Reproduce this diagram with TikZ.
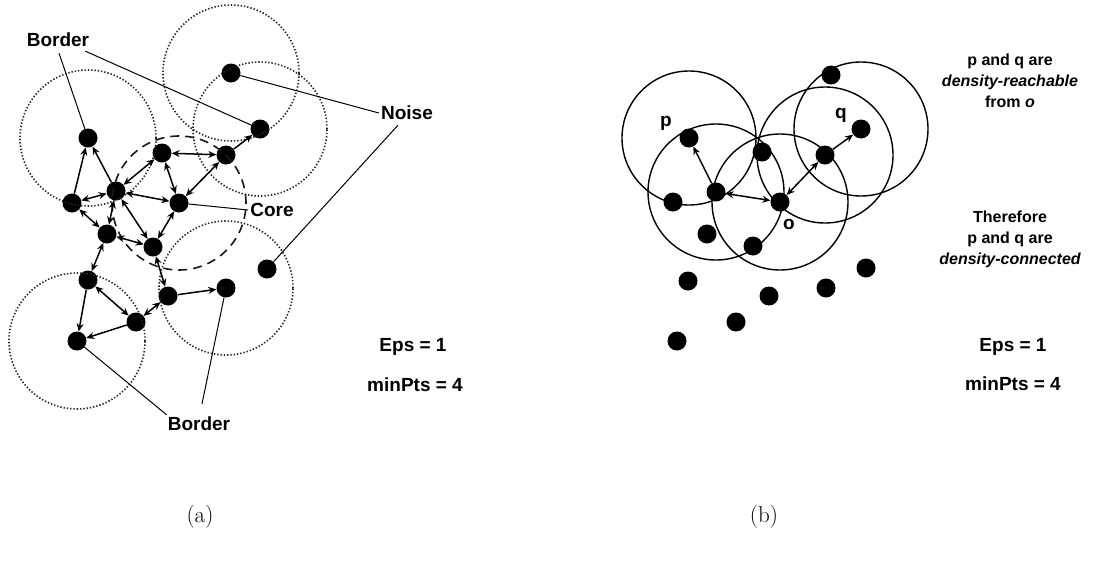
\documentclass[tikz,border=0pt]{standalone}
\usepackage{fontspec}
\newfontfamily\helv{Liberation Sans}
\usetikzlibrary{arrows.meta, positioning}

\begin{document}
\begin{tikzpicture}[x=1pt, y=-1pt]
\tikzstyle{obj} = [circle, fill=black, inner sep=0pt, minimum size=19pt]
\tikzstyle{epsdot} = [draw=black!85, line width=1.6pt, dash pattern=on 1.4pt off 1.9pt]
\tikzstyle{epscore} = [draw=black!90, line width=1.6pt, dash pattern=on 9pt off 6pt]
\tikzstyle{eps} = [draw=black, line width=1.4pt]
\tikzstyle{link} = [line width=1.5pt, -{Stealth[length=8pt,width=7pt]}]
\tikzstyle{twoway} = [line width=1.5pt, {Stealth[length=8pt,width=7pt]}-{Stealth[length=8pt,width=7pt]}]
\tikzstyle{callout} = [line width=1pt]
\tikzstyle{lbl} = [font=\helv\bfseries\fontsize{19}{22}\selectfont, inner sep=2pt]
\tikzstyle{note} = [font=\helv\bfseries\fontsize{16}{21}\selectfont, align=center]

\useasboundingbox (0,0) rectangle (1096,563);

% (a)
\node (bA) [obj] at (88,138) {};
\node (cB) [obj] at (162,153) {};
\node (cC) [obj] at (226,155) {};
\node (bD) [obj] at (260,129) {};
\node (nT) [obj] at (231,73) {};
\node (cE) [obj] at (72,203) {};
\node (cF) [obj] at (116,191) {};
\node (cG) [obj] at (179,203) {};
\node (cH) [obj] at (107,234) {};
\node (cI) [obj] at (153,247) {};
\node (cJ) [obj] at (88,280) {};
\node (cK) [obj] at (168,296) {};
\node (bL) [obj] at (226,288) {};
\node (cM) [obj] at (136,322) {};
\node (bN) [obj] at (77,341) {};
\node (nR) [obj] at (267,269) {};

\draw[epsdot] (nT) circle[radius=68pt];
\draw[epsdot] (bD) circle[radius=67pt];
\draw[epsdot] (bA) circle[radius=68pt];
\draw[epsdot] (bL) circle[radius=67pt];
\draw[epsdot] (bN) circle[radius=68pt];
\draw[epscore] (cG) circle[radius=67pt];

\draw[link] (cE) -- (bA);
\draw[link] (cF) -- (bA);
\draw[twoway] (cE) -- (cF);
\draw[twoway] (cF) -- (cB);
\draw[twoway] (cB) -- (cC);
\draw[twoway] (cB) -- (cG);
\draw[twoway] (cC) -- (cG);
\draw[twoway] (cF) -- (cG);
\draw[twoway] (cE) -- (cH);
\draw[twoway] (cF) -- (cH);
\draw[twoway] (cF) -- (cI);
\draw[twoway] (cH) -- (cI);
\draw[twoway] (cG) -- (cI);
\draw[link] (cC) -- (bD);
\draw[twoway] (cH) -- (cJ);
\draw[twoway] (cI) -- (cK);
\draw[twoway] (cJ) -- (cM);
\draw[twoway] (cK) -- (cM);
\draw[link] (cK) -- (bL);
\draw[link] (cJ) -- (bN);
\draw[link] (cM) -- (bN);

\node (bordtop) [lbl] at (58,40) {Border};
\node (noise) [lbl] at (407,113) {Noise};
\node (core) [lbl] at (272,210) {Core};
\node (bordbot) [lbl] at (199,424) {Border};
\node (epsa) [lbl] at (413,347) {Eps = 1};
\node (minptsa) [lbl] at (415,385) {minPts = 4};

\draw[callout] ([xshift=1pt,yshift=-4pt]bordtop.south) -- (bA);
\draw[callout] ([xshift=-6pt,yshift=-2pt]bordtop.south east) -- (bD);
\draw[callout] (noise.west) -- (nT);
\draw[callout] ([xshift=-9pt,yshift=-3pt]noise.south) -- (nR);
\draw[callout] (core.west) -- (cG);
\draw[callout] ([xshift=1pt]bordbot.north west) -- (bN);
\draw[callout] ([xshift=3pt,yshift=11pt]bordbot.north) -- (bL);

\node (capa) [font=\fontsize{23}{27}\selectfont] at (200,517) {(a)};

% (b)
\node (p) [obj] at (689,138) {};
\node (q) [obj] at (861,129) {};
\node (r) [obj] at (825,155) {};
\node (s) [obj] at (762,152) {};
\node (t) [obj] at (716,192) {};
\node (o) [obj] at (780,202) {};
\node (u) [obj] at (673,202) {};
\node (v) [obj] at (707,234) {};
\node (w) [obj] at (753,246) {};
\node (top) [obj] at (831,75) {};
\node (x1) [obj] at (688,281) {};
\node (x2) [obj] at (769,296) {};
\node (x3) [obj] at (826,288) {};
\node (x4) [obj] at (866,268) {};
\node (x5) [obj] at (736,322) {};
\node (x6) [obj] at (677,341) {};

\draw[eps] (p) circle[radius=67pt];
\draw[eps] (t) circle[radius=68pt];
\draw[eps] (o) circle[radius=68pt];
\draw[eps] (r) circle[radius=68pt];
\draw[eps] (q) circle[radius=67pt];

\draw[link] (t) -- (p);
\draw[twoway] (t) -- (o);
\draw[twoway] (o) -- (r);
\draw[link] (r) -- (q);

\node (plbl) [lbl] at (666,123) {p};
\node (qlbl) [lbl] at (841,115) {q};
\node (olbl) [lbl] at (789,224) {o};

\node (reach) [note] at (1010,81) {p and q are\\\itshape density-reachable\\from \itshape o};
\node (conn) [note] at (1010,239) {Therefore\\p and q are\\\itshape density-connected};
\node (epsb) [lbl] at (1013,347) {Eps = 1};
\node (minptsb) [lbl] at (1013,384) {minPts = 4};

\node (capb) [font=\fontsize{23}{27}\selectfont] at (764,517) {(b)};

\end{tikzpicture}
\end{document}
